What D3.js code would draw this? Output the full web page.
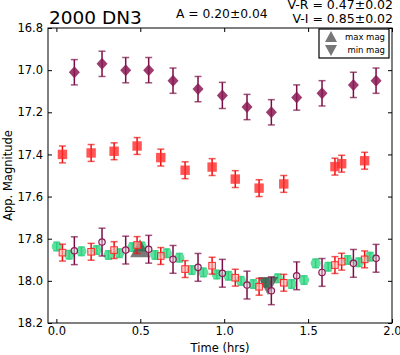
<!DOCTYPE html>
<html><head><meta charset="utf-8">
<script src="https://cdn.jsdelivr.net/npm/d3@7"></script>
<style>body{margin:0;background:#fff}svg{font-family:"DejaVu Sans",sans-serif}</style>
</head><body><svg id="c" width="400" height="355"></svg>
<script>
// Upper series (raw)
const timeV = [0.107,0.272,0.413,0.55,0.695,0.844,0.989,1.136,1.281,1.432,1.583,1.77,1.905];
const magV  = [17.01,16.97,17.00,17.00,17.05,17.09,17.12,17.175,17.20,17.13,17.11,17.07,17.05];
const errV  = [0.06,0.06,0.06,0.06,0.06,0.06,0.062,0.06,0.06,0.06,0.06,0.06,0.06];
const timeR = [0.036,0.207,0.344,0.481,0.622,0.767,0.928,1.066,1.208,1.355,1.66,1.70,1.837];
const magR  = [17.40,17.393,17.385,17.36,17.415,17.475,17.46,17.517,17.56,17.54,17.458,17.444,17.43];
const errR  = [0.04,0.04,0.04,0.04,0.04,0.04,0.04,0.04,0.04,0.04,0.04,0.04,0.04];
// Lower cluster (colour-corrected)
const magVc = [17.857,17.816,17.854,17.85,17.898,17.936,17.964,18.02,18.047,17.976,17.96,17.917,17.893];
const magRc = [17.866,17.862,17.854,17.83,17.882,17.944,17.928,17.985,18.028,18.009,17.925,17.909,17.898];
const timeG = [0.002,0.076,0.149,0.24,0.31,0.375,0.453,0.509,0.588,0.658,0.733,0.807,0.876,0.956,1.025,1.10,1.174,1.247,1.319,1.402,1.476,1.545,1.62,1.736,1.803,1.869];
const magG  = [17.837,17.876,17.86,17.854,17.877,17.869,17.84,17.837,17.877,17.869,17.89,17.949,17.96,17.97,17.976,18.0,18.015,18.009,17.988,18.015,17.996,17.917,17.933,17.901,17.912,17.885];
const errG  = 0.02;
const extrema = [{t:0.499,m:17.85,type:"max"},{t:1.261,m:18.02,type:"min"}];
const xTicks = [0.0,0.5,1.0,1.5,2.0];
const yTicks = [16.8,17.0,17.2,17.4,17.6,17.8,18.0,18.2];
const titleText = "2000 DN3";
const ampText = "A  = 0.20\u00b10.04";
const vrText = "V-R = 0.47\u00b10.02";
const viText = "V-I  = 0.85\u00b10.02";

const svg = d3.select("#c");
const L=48,R=392,T=28,B=323;
const x = d3.scaleLinear().domain([-0.05,2.0]).range([L,R]);
const y = d3.scaleLinear().domain([16.8,18.2]).range([T,B]);

const purple="#8b1a55", purpleE="#7a0d45", red="#ff2a2a", redE="#ee1010", green="#2fd884", greenE="#17b86a";

function errbars(g, ts, ms, es, color, cap){
  ts.forEach((t,i)=>{
    const e = Array.isArray(es)?es[i]:es;
    g.append("line").attr("x1",x(t)).attr("x2",x(t)).attr("y1",y(ms[i]-e)).attr("y2",y(ms[i]+e)).attr("stroke",color).attr("stroke-width",1.5);
    [ms[i]-e,ms[i]+e].forEach(v=>g.append("line").attr("x1",x(t)-cap).attr("x2",x(t)+cap).attr("y1",y(v)).attr("y2",y(v)).attr("stroke",color).attr("stroke-width",1.5).attr("opacity",0.7));
  });
}
const plot = svg.append("g");
// green
errbars(plot,timeG,magG,errG,greenE,3.5);
timeG.forEach((t,i)=>plot.append("circle").attr("cx",x(t)).attr("cy",y(magG[i])).attr("r",5).attr("fill",green).attr("opacity",0.78));
// extrema triangles
extrema.forEach(d=>{
  const cx=x(d.t), cy=y(d.m), w=10, h=10;
  const pts = d.type==="max" ? [[cx,cy-h],[cx-w,cy+h*0.8],[cx+w,cy+h*0.8]] : [[cx,cy+h],[cx-w,cy-h*0.8],[cx+w,cy-h*0.8]];
  plot.append("polygon").attr("points",pts.map(p=>p.join(",")).join(" ")).attr("fill","#404040").attr("opacity",0.7);
});
// open red squares
errbars(plot,timeR,magRc,errR,redE,3.5);
timeR.forEach((t,i)=>plot.append("rect").attr("x",x(t)-3.3).attr("y",y(magRc[i])-3.3).attr("width",6.6).attr("height",6.6).attr("fill","#ffb0b0").attr("fill-opacity",0.6).attr("stroke",red).attr("stroke-width",1));
// open purple circles
errbars(plot,timeV,magVc,0.066,purpleE,3.5);
timeV.forEach((t,i)=>plot.append("circle").attr("cx",x(t)).attr("cy",y(magVc[i])).attr("r",3.2).attr("fill","#e8c8d8").attr("fill-opacity",0.5).attr("stroke",purple).attr("stroke-width",1.2));
// upper red squares
errbars(plot,timeR,magR,errR,redE,3.5);
timeR.forEach((t,i)=>plot.append("rect").attr("x",x(t)-4.7).attr("y",y(magR[i])-4.7).attr("width",9.4).attr("height",9.4).attr("fill",red).attr("opacity",0.8));
// upper diamonds
errbars(plot,timeV,magV,errV,purpleE,3.5);
timeV.forEach((t,i)=>{const cx=x(t),cy=y(magV[i]);
  plot.append("polygon").attr("points",[[cx,cy-6],[cx+5.5,cy],[cx,cy+6],[cx-5.5,cy]].map(p=>p.join(",")).join(" ")).attr("fill",purple).attr("opacity",0.85);});

// frame
svg.append("rect").attr("x",L).attr("y",T).attr("width",R-L).attr("height",B-T).attr("fill","none").attr("stroke","#000").attr("stroke-width",1);
// axes
const fs=11.5;
const ax=svg.append("g").attr("transform",`translate(0,${B})`).call(d3.axisBottom(x).tickValues(xTicks).tickFormat(d3.format(".1f")).tickSizeInner(-4).tickSizeOuter(0).tickPadding(4));
const axT=svg.append("g").attr("transform",`translate(0,${T})`).call(d3.axisTop(x).tickValues(xTicks).tickFormat("").tickSizeInner(-4).tickSizeOuter(0));
const ay=svg.append("g").attr("transform",`translate(${L},0)`).call(d3.axisLeft(y).tickValues(yTicks).tickFormat(d3.format(".1f")).tickSizeInner(-4).tickSizeOuter(0).tickPadding(5));
const ayR=svg.append("g").attr("transform",`translate(${R},0)`).call(d3.axisRight(y).tickValues(yTicks).tickFormat("").tickSizeInner(-4).tickSizeOuter(0));
[ax,axT,ay,ayR].forEach(g=>{g.select(".domain").remove();g.selectAll("text").attr("font-size",fs).attr("font-family","DejaVu Sans").attr("fill","#000");g.selectAll("line").attr("stroke","#000");});

svg.append("text").attr("x",(L+R)/2).attr("y",352).attr("text-anchor","middle").attr("font-size",fs).text("Time (hrs)");
svg.append("text").attr("transform",`translate(12,${(T+B)/2}) rotate(-90)`).attr("text-anchor","middle").attr("font-size",fs).text("App. Magnitude");
svg.append("text").attr("x",49).attr("y",23.5).attr("font-size",18.5).text(titleText);
svg.append("text").attr("x",176).attr("y",17.5).attr("font-size",12.3).text(ampText);
svg.append("text").attr("x",393).attr("y",8.5).attr("text-anchor","end").attr("font-size",12.5).text(vrText);
svg.append("text").attr("x",393).attr("y",23).attr("text-anchor","end").attr("font-size",12.5).text(viText);

// legend
const lg=svg.append("g");
lg.append("rect").attr("x",319).attr("y",29).attr("width",70).attr("height",29).attr("fill","#fff").attr("stroke","#000").attr("stroke-width",1.2);
lg.append("polygon").attr("points","331,31 325,42 337,42").attr("fill","#777");
lg.append("polygon").attr("points","331,56 325,45 337,45").attr("fill","#777");
lg.append("text").attr("x",385).attr("y",40).attr("text-anchor","end").attr("font-size",8.5).text("max mag");
lg.append("text").attr("x",385).attr("y",53).attr("text-anchor","end").attr("font-size",8.5).text("min mag");
</script></body></html>
